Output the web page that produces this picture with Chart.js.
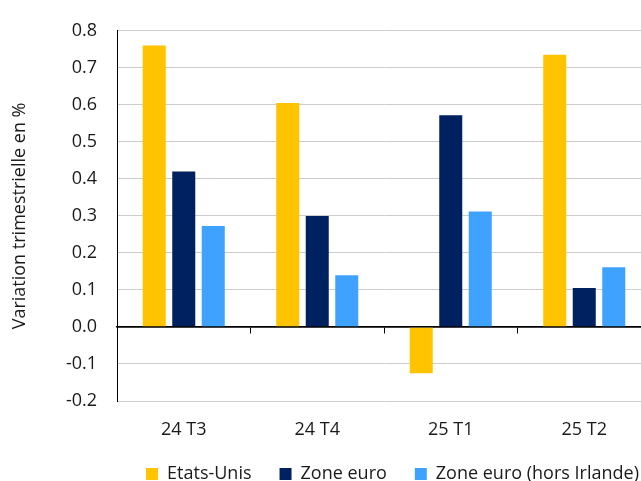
<!DOCTYPE html>
<html>
<head>
<meta charset="utf-8">
<script src="https://cdn.jsdelivr.net/npm/chart.js@4"></script>
<style>
  html, body { margin: 0; padding: 0; overflow: hidden; background: #fff; width: 641px; height: 481px; }
  canvas { display: block; }
</style>
</head>
<body>
<canvas id="c" width="785" height="493"></canvas>
<script>
const categories = ['24 T3', '24 T4', '25 T1', '25 T2'];
const seriesNames = ['Etats-Unis', 'Zone euro', 'Zone euro (hors Irlande)'];
const etatsUnis = [0.76, 0.605, -0.125, 0.735];
const zoneEuro = [0.42, 0.30, 0.572, 0.105];
const zoneEuroHorsIrlande = [0.273, 0.14, 0.312, 0.161];
const yTitle = 'Variation trimestrielle en %';
const yMin = -0.2, yMax = 0.8, yStep = 0.1;

const FONT = "'Open Sans', 'Noto Sans', sans-serif";
const TXT = '#1a1a1a';
const FS = 18;

new Chart(document.getElementById('c'), {
  type: 'bar',
  data: {
    labels: categories,
    datasets: [
      { label: seriesNames[0], data: etatsUnis, backgroundColor: '#FFC300' },
      { label: seriesNames[1], data: zoneEuro, backgroundColor: '#00215F' },
      { label: seriesNames[2], data: zoneEuroHorsIrlande, backgroundColor: '#40A2FF' }
    ]
  },
  options: {
    responsive: false,
    animation: false,
    devicePixelRatio: 1,
    datasets: { bar: { categoryPercentage: 0.663, barPercentage: 0.78 } },
    layout: { padding: { top: 20.5, left: 0, right: 0, bottom: 0 } },
    plugins: {
      tooltip: { enabled: false },
      legend: {
        position: 'bottom',
        align: 'center',
        labels: {
          boxWidth: 12, boxHeight: 12, padding: 28,
          color: TXT,
          font: { family: FONT, size: FS }
        }
      }
    },
    scales: {
      x: {
        type: 'category',
        position: 'bottom',
        grid: { display: false, drawTicks: false },
        border: { display: false },
        ticks: { color: TXT, padding: 18, font: { family: FONT, size: FS } },
        afterFit(s) { s.height = 36; }
      },
      x2: {
        type: 'category',
        position: { y: 0 },
        grid: { display: true, drawOnChartArea: false, drawTicks: true, tickLength: 6, color: '#000', offset: true },
        border: { display: true, color: '#000', width: 1.5 },
        ticks: { display: false }
      },
      y: {
        position: 'left',
        min: yMin, max: yMax,
        ticks: {
          stepSize: yStep,
          color: TXT,
          padding: 20,
          font: { family: FONT, size: FS },
          callback: v => Number(v).toFixed(1)
        },
        grid: {
          drawTicks: false,
          color: c => (c.tick && Math.abs(c.tick.value) < 1e-9) ? '#000' : '#cccccc',
          lineWidth: c => (c.tick && Math.abs(c.tick.value) < 1e-9) ? 1.5 : 1
        },
        border: { display: true, color: '#000', width: 1 },
        title: {
          display: true, text: yTitle, color: TXT,
          font: { family: FONT, size: FS },
          padding: { top: 9.5, bottom: 0 }
        },
        afterFit(s) { s.width = 117; }
      },
      yR: {
        position: 'right',
        display: true,
        grid: { display: false },
        border: { display: false },
        ticks: { display: false },
        afterFit(s) { s.width = 134; }
      }
    }
  }
});
</script>
</body>
</html>
